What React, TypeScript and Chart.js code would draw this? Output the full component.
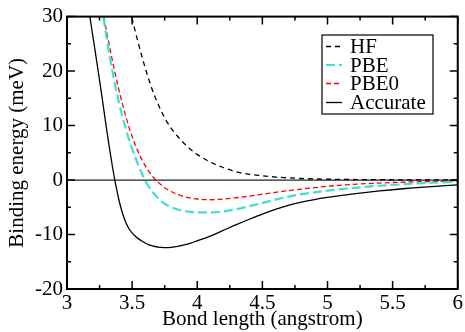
import React, { useEffect, useRef } from "react";
import { Chart, registerables } from "chart.js";

Chart.register(...registerables);

const bondLength = [3.15, 3.175, 3.2, 3.225, 3.25, 3.275, 3.3, 3.325, 3.35, 3.375, 3.4, 3.425, 3.45, 3.475, 3.5, 3.525, 3.55, 3.575, 3.6, 3.625, 3.65, 3.675, 3.7, 3.725, 3.75, 3.775, 3.8, 3.85, 3.9, 3.95, 4.0, 4.1, 4.2, 4.3, 4.4, 4.5, 4.6, 4.7, 4.8, 4.9, 5.0, 5.2, 5.4, 5.6, 5.8, 6.0];

const hf = [null, null, null, null, null, null, null, null, null, null, null, null,
  34.6, 32.0, 29.6, 27.2, 24.9, 22.7, 20.6, 18.7, 16.9, 15.3,
  13.9, 12.6, 11.4, 10.4, 9.5,
  8.0, 6.7, 5.6, 4.7,
  3.3, 2.3, 1.5, 1.05, 0.78, 0.55, 0.4, 0.28, 0.2, 0.15,
  0.1, 0.06, 0.04, 0.03, 0.02];
const pbe = [null, null, null, null,
  34.5, 30.5, 26.8, 23.2, 19.8, 16.8, 14.1, 11.7, 9.5, 7.5,
  5.7, 4.1, 2.6, 1.2, -0.1, -1.1, -1.95, -2.7, -3.35, -3.9,
  -4.35, -4.7, -5.0,
  -5.4, -5.7, -5.85, -5.95,
  -5.95, -5.75, -5.35, -4.8, -4.2, -3.6, -3.05, -2.6, -2.25, -1.95,
  -1.45, -1.05, -0.75, -0.5, -0.35];
const pbe0 = [null, null, null, null,
  34.3, 31.0, 27.8, 24.7, 21.75, 19.0, 16.4, 14.0, 11.8, 9.8,
  8.0, 6.4, 5.0, 3.75, 2.65, 1.7, 0.88, 0.18, -0.42, -0.95,
  -1.4, -1.78, -2.1,
  -2.65, -3.05, -3.3, -3.48,
  -3.62, -3.5, -3.25, -2.95, -2.6, -2.25, -1.95, -1.65, -1.4, -1.15,
  -0.8, -0.55, -0.38, -0.27, -0.2];
const accurate = [34.2, 30.1, 26.2, 22.3, 18.3, 14.2, 10, 6.0, 2.3, -1.0,
  -3.8, -6.0, -7.7, -8.9, -9.7, -10.3, -10.8, -11.2, -11.55, -11.85,
  -12.05, -12.2, -12.3, -12.37, -12.4, -12.39, -12.35,
  -12.18, -11.92, -11.57, -11.15,
  -10.3, -9.25, -8.2, -7.2, -6.25, -5.4, -4.65, -4.05, -3.58, -3.2,
  -2.55, -2.0, -1.55, -1.2, -0.9];

const seriesNames = ["HF", "PBE", "PBE0", "Accurate"];
const xTickValues = [3, 3.5, 4, 4.5, 5, 5.5, 6];
const yTickValues = [-20, -10, 0, 10, 20, 30];
const xMinorTicks = [3.25, 3.75, 4.25, 4.75, 5.25, 5.75];
const yMinorTicks = [-15, -5, 5, 15, 25];

const FONT = "'Liberation Serif', 'DejaVu Serif', serif";

const toPoints = (ys: (number | null)[]) =>
  bondLength.map((x, i) => ({ x, y: ys[i] }));

const framePlugin = {
  id: "frame",
  beforeDatasetsDraw(chart: any) {
    const { ctx, chartArea: a, scales } = chart;
    const y0 = scales.y.getPixelForValue(0);
    ctx.save();
    ctx.strokeStyle = "#222";
    ctx.lineWidth = 1.3;
    ctx.beginPath();
    ctx.moveTo(a.left, y0);
    ctx.lineTo(a.right, y0);
    ctx.stroke();
    ctx.restore();
  },
  afterDatasetsDraw(chart: any) {
    const { ctx, chartArea: a, scales } = chart;
    ctx.save();
    ctx.strokeStyle = "#000";
    ctx.lineWidth = 2;
    ctx.strokeRect(a.left, a.top, a.right - a.left, a.bottom - a.top);
    ctx.lineWidth = 1.5;
    ctx.beginPath();
    const xt = (v: number, len: number) => {
      const p = scales.x.getPixelForValue(v);
      ctx.moveTo(p, a.bottom);
      ctx.lineTo(p, a.bottom - len);
      ctx.moveTo(p, a.top);
      ctx.lineTo(p, a.top + len);
    };
    const yt = (v: number, len: number) => {
      const p = scales.y.getPixelForValue(v);
      ctx.moveTo(a.left, p);
      ctx.lineTo(a.left + len, p);
      ctx.moveTo(a.right, p);
      ctx.lineTo(a.right - len, p);
    };
    xTickValues.forEach((v) => xt(v, 8));
    xMinorTicks.forEach((v) => xt(v, 4));
    yTickValues.forEach((v) => yt(v, 8));
    yMinorTicks.forEach((v) => yt(v, 4));
    ctx.stroke();

    // legend
    const bx = 322, by = 35, bw = 111, bh = 79;
    ctx.fillStyle = "#fff";
    ctx.fillRect(bx, by, bw, bh);
    ctx.lineWidth = 1.2;
    ctx.strokeStyle = "#000";
    ctx.strokeRect(bx, by, bw, bh);
    const rows = [46.5, 65, 83.5, 102.5];
    chart.data.datasets.forEach((ds: any, i: number) => {
      const yy = rows[i];
      ctx.beginPath();
      ctx.setLineDash(ds.borderDash || []);
      ctx.strokeStyle = ds.borderColor;
      ctx.lineWidth = ds.borderWidth;
      ctx.moveTo(326, yy);
      ctx.lineTo(342, yy);
      ctx.stroke();
      ctx.setLineDash([]);
      ctx.fillStyle = "#000";
      ctx.font = `21px ${FONT}`;
      ctx.textBaseline = "middle";
      ctx.textAlign = "left";
      ctx.fillText(ds.label, 350, yy + 1);
    });
    ctx.restore();
  },
};

export default function App() {
  const ref = useRef<HTMLCanvasElement>(null);
  useEffect(() => {
    document.body.style.margin = "0";
    const chart = new Chart(ref.current as HTMLCanvasElement, {
      type: "line",
      data: {
        datasets: [
          { label: seriesNames[0], data: toPoints(hf), borderColor: "#000000", borderWidth: 1.3, borderDash: [5, 4] },
          { label: seriesNames[1], data: toPoints(pbe), borderColor: "#40E0D0", borderWidth: 2.2, borderDash: [9, 4] },
          { label: seriesNames[2], data: toPoints(pbe0), borderColor: "#FF0000", borderWidth: 1.3, borderDash: [5, 3] },
          { label: seriesNames[3], data: toPoints(accurate), borderColor: "#000000", borderWidth: 1.3 },
        ].map((d) => ({ ...d, pointRadius: 0, fill: false, cubicInterpolationMode: "monotone" as const, spanGaps: false })),
      },
      options: {
        responsive: false,
        animation: false,
        layout: { padding: { top: 16, right: 6, left: 0, bottom: 0 } },
        plugins: { legend: { display: false }, tooltip: { enabled: false } },
        scales: {
          x: {
            type: "linear",
            min: 3,
            max: 6,
            grid: { display: false, drawTicks: false },
            border: { display: false },
            afterBuildTicks: (s: any) => { s.ticks = xTickValues.map((v) => ({ value: v })); },
            afterFit: (s: any) => { s.height = 43; },
            ticks: { color: "#000", font: { family: FONT, size: 21 }, padding: 2, maxRotation: 0, callback: (v: any) => String(v) },
            title: { display: true, text: "Bond length (angstrom)", color: "#000", font: { family: FONT, size: 21 }, padding: { top: 0, bottom: 0 } },
          },
          y: {
            type: "linear",
            min: -20,
            max: 30,
            grid: { display: false, drawTicks: false },
            border: { display: false },
            afterBuildTicks: (s: any) => { s.ticks = yTickValues.map((v) => ({ value: v })); },
            afterFit: (s: any) => { s.width = 67; },
            ticks: { color: "#000", font: { family: FONT, size: 21 }, padding: 4, callback: (v: any) => String(v) },
            title: { display: true, text: "Binding energy (meV)", color: "#000", font: { family: FONT, size: 21 }, padding: { top: 5, bottom: 0 } },
          },
        },
      },
      plugins: [framePlugin],
    });
    return () => chart.destroy();
  }, []);
  return (
    <div style={{ width: 465, height: 332 }}>
      <canvas ref={ref} width={465} height={332} />
    </div>
  );
}
